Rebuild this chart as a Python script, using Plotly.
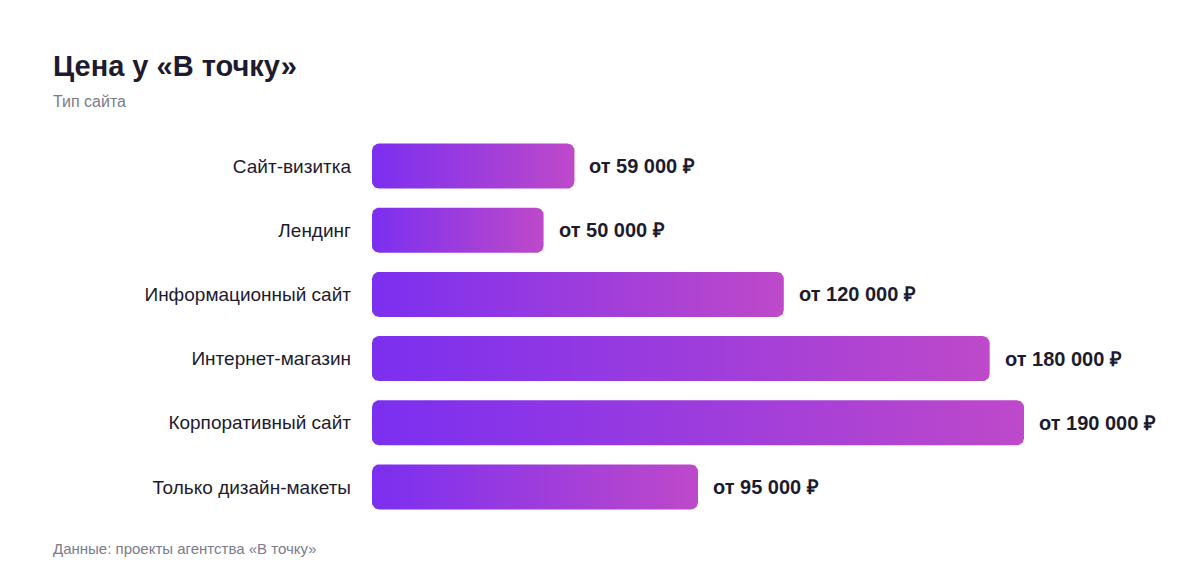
import numpy as np
import plotly.graph_objects as go

# ---- data ----
categories = ["Сайт-визитка", "Лендинг", "Информационный сайт", "Интернет-магазин",
              "Корпоративный сайт", "Только дизайн-макеты"]
prices = [59000, 50000, 120000, 180000, 190000, 95000]
labels = ["от 59 000 ₽", "от 50 000 ₽", "от 120 000 ₽", "от 180 000 ₽",
          "от 190 000 ₽", "от 95 000 ₽"]

title = "Цена у «В точку»"
subtitle = "Тип сайта"
source = "Данные: проекты агентства «В точку»"

# ---- layout constants (page body has an 8px margin) ----
OFF = 8
W, H = 1200 - OFF, 584 - OFF
ML, MR, MT, MB = 372 - OFF, 176, 134 - OFF, 65
XMAX = 190000
plot_w = W - ML - MR
plot_h = H - MT - MB
n = len(categories)
px_x = plot_w / XMAX          # px per data unit (x)
px_y = plot_h / n             # px per category (y)
bar_px = 45
rad_px = 7
c_left, c_right = "#7B2FF0", "#BE49CA"
font = "Liberation Sans, Arial, Helvetica, sans-serif"
dark = "#1d1b2f"
grey = "#7b7b8c"

def rounded_rect(x0, x1, yc):
    hy = bar_px / 2 / px_y
    rx = rad_px / px_x
    ry = rad_px / px_y
    xs, ys = [], []
    corners = [(x1 - rx, yc - hy + ry, -90, 0),
               (x1 - rx, yc + hy - ry, 0, 90),
               (x0 + rx, yc + hy - ry, 90, 180),
               (x0 + rx, yc - hy + ry, 180, 270)]
    for cx, cy, a0, a1 in corners:
        t = np.radians(np.linspace(a0, a1, 10))
        xs.extend(cx + rx * np.cos(t))
        ys.extend(cy + ry * np.sin(t))
    xs.append(xs[0]); ys.append(ys[0])
    return xs, ys

fig = go.Figure()
for i, (cat, v) in enumerate(zip(categories, prices)):
    xs, ys = rounded_rect(0, v, i)
    fig.add_trace(go.Scatter(
        x=xs, y=ys, mode="lines", fill="toself", line=dict(width=0),
        fillgradient=dict(type="horizontal", colorscale=[[0, c_left], [1, c_right]],
                          start=0, stop=v),
        hoverinfo="skip", showlegend=False, name=cat))
    fig.add_annotation(x=v, y=i, xref="x", yref="y", text=f"<b>{labels[i]}</b>",
                       showarrow=False, xanchor="left", xshift=13,
                       font=dict(family=font, size=20, color=dark))

def px_to_paper_x(px):
    return (px - OFF - ML) / plot_w

def px_to_paper_y(py):
    return (H - MB - (py - OFF)) / plot_h

fig.add_annotation(x=px_to_paper_x(51), y=px_to_paper_y(66), xref="paper", yref="paper",
                   text=f"<b>{title}</b>", showarrow=False, xanchor="left", yanchor="middle",
                   font=dict(family=font, size=29, color=dark))
fig.add_annotation(x=px_to_paper_x(51), y=px_to_paper_y(102), xref="paper", yref="paper",
                   text=subtitle, showarrow=False, xanchor="left", yanchor="middle",
                   font=dict(family=font, size=16, color=grey))
fig.add_annotation(x=px_to_paper_x(51), y=px_to_paper_y(548), xref="paper", yref="paper",
                   text=source, showarrow=False, xanchor="left", yanchor="middle",
                   font=dict(family=font, size=15, color=grey))

fig.update_layout(
    width=W, height=H,
    margin=dict(l=ML, r=MR, t=MT, b=MB),
    paper_bgcolor="white", plot_bgcolor="white",
    xaxis=dict(range=[0, XMAX], visible=False, fixedrange=True),
    yaxis=dict(range=[n - 0.5, -0.5], tickmode="array", tickvals=list(range(n)),
               ticktext=categories, showgrid=False, zeroline=False, showline=False,
               ticks="", ticklabelstandoff=20,
               tickfont=dict(family=font, size=19, color=dark), fixedrange=True),
    showlegend=False,
)

fig.write_html("out.html")
